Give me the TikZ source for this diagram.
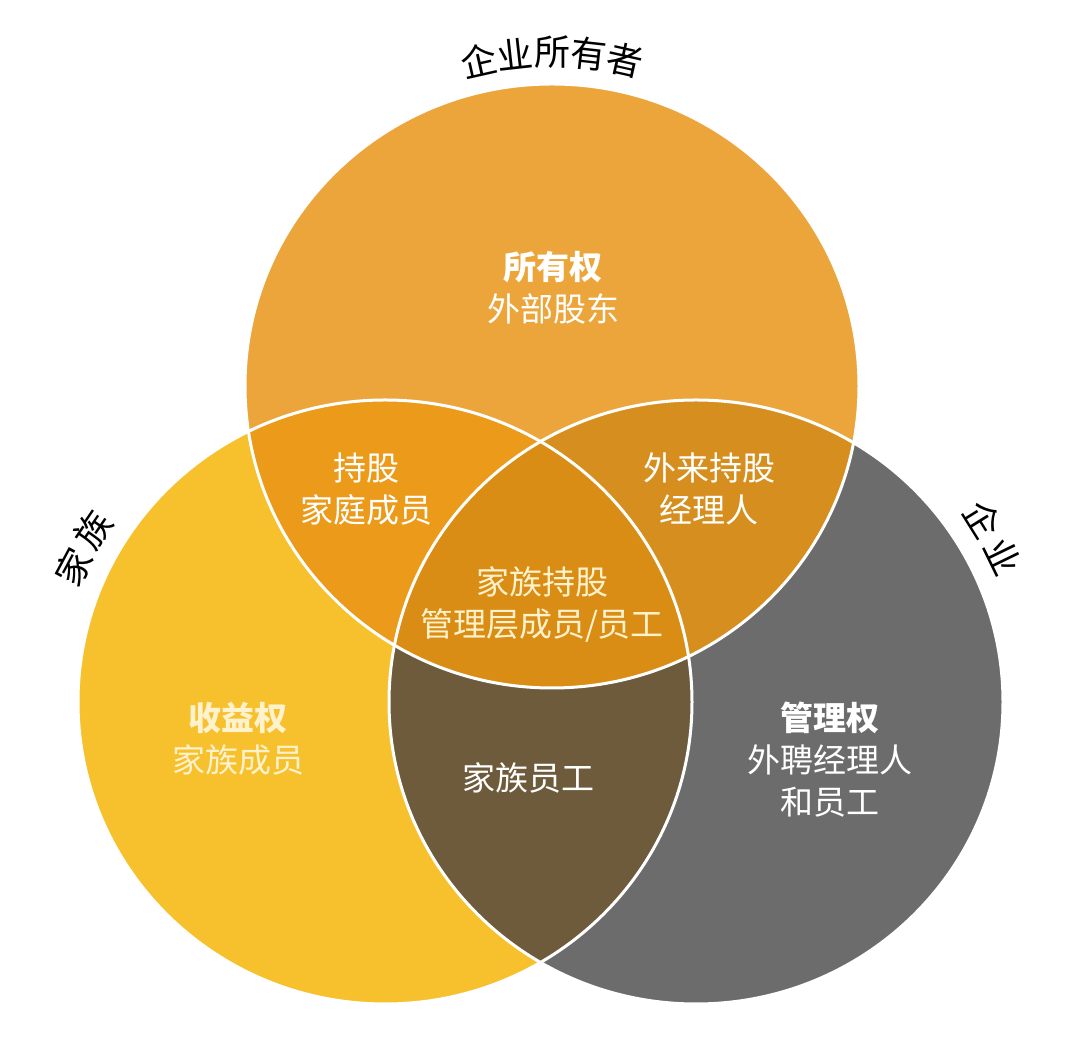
\documentclass[tikz,border=0pt]{standalone}
\usepackage{fontspec}
\usetikzlibrary{calc}
\setmainfont{Noto Sans CJK SC}
\definecolor{topc}{HTML}{ECA53B}
\definecolor{leftc}{HTML}{F7C12E}
\definecolor{rightc}{HTML}{6C6C6C}
\definecolor{tlc}{HTML}{EB9A1A}
\definecolor{trc}{HTML}{D68F1E}
\definecolor{lrc}{HTML}{6D5B3C}
\definecolor{midc}{HTML}{DA8D14}
\definecolor{creamc}{HTML}{FFF2CC}
\begin{document}
\begin{tikzpicture}[x=1pt,y=1pt,
  lab/.style={font=\fontsize{33}{42}\selectfont, text=white, align=center, inner sep=0pt},
  outlab/.style={font=\fontsize{36}{40}\selectfont, text=black, inner sep=0pt},
  ring/.style={draw=white, line width=3pt}]
\useasboundingbox (0,0) rectangle (1080,1044);
\fill[white] (0,0) rectangle (1080,1044);
% base circles
\fill[topc] (552,658) ellipse [x radius=307, y radius=302];
\fill[leftc] (385,342) ellipse [x radius=307, y radius=302];
\fill[rightc] (696,342) ellipse [x radius=307, y radius=302];
% pairwise overlaps
\begin{scope}
  \clip (552,658) ellipse [x radius=307, y radius=302];
  \fill[tlc] (385,342) ellipse [x radius=307, y radius=302];
\end{scope}
\begin{scope}
  \clip (552,658) ellipse [x radius=307, y radius=302];
  \fill[trc] (696,342) ellipse [x radius=307, y radius=302];
\end{scope}
\begin{scope}
  \clip (385,342) ellipse [x radius=307, y radius=302];
  \fill[lrc] (696,342) ellipse [x radius=307, y radius=302];
\end{scope}
% triple overlap
\begin{scope}
  \clip (552,658) ellipse [x radius=307, y radius=302];
  \clip (385,342) ellipse [x radius=307, y radius=302];
  \fill[midc] (696,342) ellipse [x radius=307, y radius=302];
\end{scope}
% white outlines
\draw[ring] (552,658) ellipse [x radius=307, y radius=302];
\draw[ring] (385,342) ellipse [x radius=307, y radius=302];
\draw[ring] (696,342) ellipse [x radius=307, y radius=302];
% region labels
\node[lab] (own) at (553,756) {\textbf{所有权}\\外部股东};
\node[lab] (tl) at (366,555) {持股\\家庭成员};
\node[lab] (tr) at (709,555) {外来持股\\经理人};
\node[lab, text=creamc] (mid) at (542,440) {家族持股\\管理层成员/员工};
\node[lab, text=creamc] (ben) at (238,305) {\textbf{收益权}\\家族成员};
\node[lab] (man) at (830,284) {\textbf{管理权}\\外聘经理人\\和员工};
\node[lab] (fe) at (528,266) {家族员工};
% outer labels
\foreach \ch [count=\i from -2] in {企,业,所,有,者}{
  \pgfmathsetmacro{\ang}{90-6.35*\i}
  \node[outlab, rotate=\ang-90] (t\i) at ($(552,658)+(\ang:334)$) {\ch};
}
\node[outlab, rotate=62] (fam1) at ($(385,342)+(156.5:339)$) {家};
\node[outlab, rotate=56] (fam2) at ($(385,342)+(149.5:339)$) {族};
\node[outlab, rotate=-58] (ent1) at ($(696,342)+(32.5:340)$) {企};
\node[outlab, rotate=-64] (ent2) at ($(696,342)+(25.3:340)$) {业};
\end{tikzpicture}
\end{document}
